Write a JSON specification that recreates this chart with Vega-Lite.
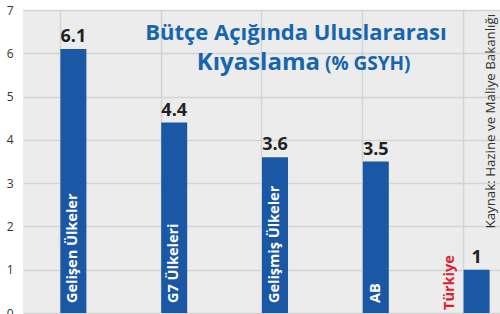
{
  "$schema": "https://vega.github.io/schema/vega-lite/v6.json",
  "width": 477,
  "height": 303,
  "autosize": {"type": "none"},
  "padding": {"left": 23, "top": 10, "right": 0, "bottom": 1},
  "background": "white",
  "config": {
    "view": {"stroke": null, "fill": "#ececec"},
    "font": "Open Sans"
  },
  "data": {
    "values": [
      {"ulke": "Gelişen Ülkeler", "deger": 6.1},
      {"ulke": "G7 Ülkeleri", "deger": 4.4},
      {"ulke": "Gelişmiş Ülkeler", "deger": 3.6},
      {"ulke": "AB", "deger": 3.5},
      {"ulke": "Türkiye", "deger": 1}
    ]
  },
  "encoding": {
    "x": {
      "field": "ulke",
      "type": "nominal",
      "sort": null,
      "scale": {"range": [0, 504], "paddingInner": 0.742, "paddingOuter": 0.371},
      "axis": {
        "title": null, "labels": false, "ticks": false, "domain": false,
        "grid": true, "bandPosition": 0, "gridColor": "#d4d4d4", "gridWidth": 1.5
      }
    }
  },
  "layer": [
    {
      "mark": {"type": "bar", "color": "#1a57a5"},
      "encoding": {
        "y": {
          "field": "deger",
          "type": "quantitative",
          "scale": {"domain": [0, 7], "nice": false},
          "axis": {
            "title": null, "values": [0, 1, 2, 3, 4, 5, 6, 7], "ticks": false, "domain": false,
            "grid": true, "gridColor": "#d4d4d4", "gridWidth": 1.5,
            "labelFontSize": 12, "labelColor": "#333333", "labelPadding": 10, "labelFont": "Open Sans"
          }
        }
      }
    },
    {
      "mark": {"type": "text", "fontWeight": "bold", "fontSize": 18, "color": "#222222", "baseline": "alphabetic", "dy": -7},
      "encoding": {
        "y": {"field": "deger", "type": "quantitative"},
        "text": {"field": "deger", "type": "quantitative"}
      }
    },
    {
      "transform": [{"filter": "datum.ulke !== 'Türkiye'"}],
      "mark": {"type": "text", "fontWeight": "bold", "fontSize": 14.5, "color": "white", "angle": 270, "align": "left", "baseline": "middle"},
      "encoding": {
        "y": {"datum": 0.23},
        "text": {"field": "ulke"}
      }
    },
    {
      "transform": [{"filter": "datum.ulke === 'Türkiye'"}],
      "mark": {"type": "text", "fontWeight": "bold", "fontSize": 14.5, "color": "#e0202a", "angle": 270, "align": "left", "baseline": "middle", "dy": -27},
      "encoding": {
        "y": {"datum": 0.07},
        "text": {"field": "ulke"}
      }
    },
    {
      "data": {"values": [{"t": "Bütçe Açığında Uluslararası"}]},
      "mark": {"type": "text", "fontWeight": "bold", "fontSize": 22, "color": "#1565b0", "align": "center", "baseline": "alphabetic", "dx": 21},
      "encoding": {
        "x": {"datum": "Gelişmiş Ülkeler"},
        "y": {"datum": 6.3},
        "text": {"field": "t"}
      }
    },
    {
      "data": {"values": [{"t": "Kıyaslama"}]},
      "mark": {"type": "text", "fontWeight": "bold", "fontSize": 24, "color": "#1565b0", "align": "right", "baseline": "alphabetic", "dx": 45},
      "encoding": {
        "x": {"datum": "Gelişmiş Ülkeler"},
        "y": {"datum": 5.61},
        "text": {"field": "t"}
      }
    },
    {
      "data": {"values": [{"t": "(% GSYH)"}]},
      "mark": {"type": "text", "fontWeight": "bold", "fontSize": 19, "color": "#1565b0", "align": "left", "baseline": "alphabetic", "dx": 50},
      "encoding": {
        "x": {"datum": "Gelişmiş Ülkeler"},
        "y": {"datum": 5.61},
        "text": {"field": "t"}
      }
    },
    {
      "data": {"values": [{"t": "Kaynak: Hazine ve Maliye Bakanlığı"}]},
      "mark": {"type": "text", "fontSize": 13.3, "color": "#333333", "angle": 270, "align": "center", "baseline": "middle", "dy": 14},
      "encoding": {
        "x": {"datum": "Türkiye"},
        "y": {"datum": 4.43},
        "text": {"field": "t"}
      }
    }
  ]
}
